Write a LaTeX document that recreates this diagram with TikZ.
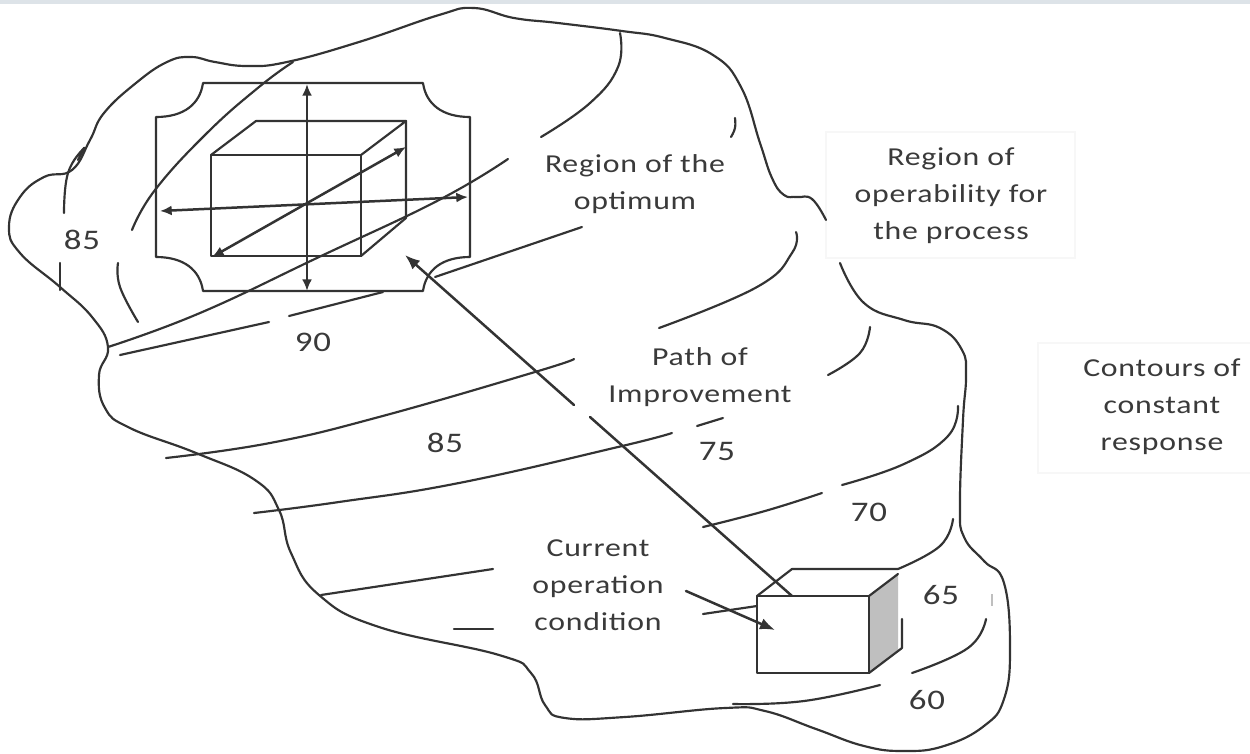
\documentclass[tikz,border=0pt]{standalone}
\usepackage{fontspec}
\setmainfont[LetterSpace=3,FakeStretch=1.23]{Carlito}
\usetikzlibrary{arrows.meta}
\definecolor{ink}{HTML}{333333}
\definecolor{txt}{HTML}{3A3A3A}
\definecolor{band}{HTML}{DDE3E8}
\tikzset{
  ln/.style={draw=ink,line width=1.3pt,line cap=round,line join=round},
  cv/.style={ln,smooth,tension=0.75},
  lbl/.style={text=txt,font=\fontsize{15.5}{22.2}\selectfont,align=center,inner sep=0pt},
  num/.style={text=txt,font=\fontsize{17}{20}\selectfont,inner sep=0pt},
  arr/.style={ln,line width=1.5pt,-{Latex[length=9pt,width=7pt]}},
  dbl/.style={ln,line width=1.5pt,{Latex[length=7pt,width=6pt]}-{Latex[length=7pt,width=6pt]}},
  pane/.style={draw=black!3,fill=white,line width=.8pt}
}
\begin{document}
\begin{tikzpicture}[x=0.6pt,y=-0.6pt]
\useasboundingbox (0,0) rectangle (1250,753);
\fill[white] (0,0) rectangle (1250,753);
\fill[band] (0,0) rectangle (1250,4);
% panes
\draw[pane] (826,132) rectangle (1075,258);
\draw[pane] (1038,343) rectangle (1251,473);
% outline
\draw[cv] plot coordinates {(826,220)(812,199)(797,197)(784,195)(772,178)(760,143)(741,87)(713,55)(665,38)(622,31)(558,23)(514,18)(474,8)(439,15)(359,42)(287,62)(247,66)(215,62)(191,57)(167,62)(136,83)(104,113)(90,140)(72,170)(44,177)(20,197)(9,227)(20,253)(60,287)(92,317)(108,347)(99,375)(105,408)(130,428)(196,453)(255,480)(279,510)(291,553)(319,595)(379,627)(499,655)(531,673)(545,705)(565,718)(625,717)(725,708)(765,711)(816,729)(864,746)(904,751)(944,746)(984,726)(1004,699)(1010,649)(1004,583)(984,561)(964,537)(960,505)(963,420)(966,376)(962,350)(940,328)(904,320)(864,303)(840,263)};
% contours
\draw[cv] plot coordinates {(64,213)(68,173)(84,148)(78,160)};
\draw[ln] (60,263) -- (60,290);
\draw[cv] plot coordinates {(293,62)(259,87)(207,133)(155,190)(132,230)};
\draw[cv] plot coordinates {(118,263)(120,287)(138,322)};
\draw[cv] plot coordinates {(508,159)(439,200)(319,257)(200,313)(108,347)};
\draw[ln] (582,227) -- (435,277);
\draw[ln] (383,292) -- (289,316);
\draw[ln] (269,322) -- (120,355);
\draw[cv] plot coordinates {(620,33)(618,67)(590,103)(541,137)};
\draw[cv] plot coordinates {(735,118)(735,128)(731,137)};
\draw[cv] plot coordinates {(796,232)(792,253)(757,287)(659,328)};
\draw[cv] plot coordinates {(574,359)(535,372)(379,417)(270,443)(166,458)};
\draw[cv] plot coordinates {(870,327)(860,353)(828,375)};
\draw[ln] (723,418) -- (697,426);
\draw[cv] plot coordinates {(672,433)(618,447)(459,483)(339,502)(254,513)};
\draw[cv] plot coordinates {(958,406)(948,436)(904,464)(842,485)};
\draw[cv] plot coordinates {(822,493)(765,511)(703,527)};
\draw[cv] plot coordinates {(953,519)(940,546)(898,569)};
\draw[ln] (321,595) -- (493,569);
\draw[ln] (454,629) -- (493,629);
\draw[ln] (757,606) -- (703,614);
\draw[cv] plot coordinates {(986,619)(968,648)(912,673)};
\draw[cv] plot coordinates {(880,685)(804,701)(733,704)};
\draw[black!25,line width=.8pt] (992,594) -- (992,606);
% big frame
\draw[ln] (203,83) -- (423,83) .. controls (426,104) and (442,117) .. (470,117) -- (470,257)
  .. controls (442,257) and (426,270) .. (423,291) -- (203,291)
  .. controls (200,270) and (184,257) .. (156,257) -- (156,117)
  .. controls (184,117) and (200,104) .. (203,83) -- cycle;
% large cube
\draw[ln] (211,155) rectangle (361,256);
\draw[ln] (211,155) -- (256,121) -- (406,121) -- (361,155);
\draw[ln] (406,121) -- (406,218) -- (361,256);
% axes
\coordinate (vt) at (307,84); \coordinate (vb) at (307,291);
\coordinate (hl) at (160,211); \coordinate (hr) at (468,197);
\coordinate (dl) at (212,257); \coordinate (dr) at (406,147);
\draw[dbl] (vt) -- (vb);
\draw[dbl] (hl) -- (hr);
\draw[dbl] (dl) -- (dr);
% small cube
\fill[black!25] (869,596) -- (898,574) -- (898,650) -- (869,673) -- cycle;
\draw[ln] (757,596) rectangle (869,673);
\draw[ln] (757,596) -- (792,569) -- (898,569);
\draw[ln] (869,596) -- (898,574);
\draw[ln] (869,673) -- (902,648) -- (902,619);
% path of improvement
\coordinate (ps) at (792,596); \coordinate (pm) at (590,417); \coordinate (pn) at (574,405); \coordinate (pe) at (405,255);
\draw[ln,line width=1.5pt] (ps) -- (pm);
\draw[arr] (pn) -- (pe);
\coordinate (cs) at (686,591); \coordinate (ce) at (775,630);
\draw[arr] (cs) -- (ce);
% labels
\node[lbl] (ropt) at (635,184) {Region of the\\optimum};
\node[lbl] (roper) at (951,196) {Region of\\operability for\\the process};
\node[lbl] (path) at (700,377) {Path of\\Improvement};
\node[lbl] (cont) at (1162,407) {Contours of\\constant\\response};
\node[lbl] (cur) at (598,585) {Current\\operation\\condition};
\node[num] (n85a) at (82,240) {85};
\node[num] (n90) at (313,342) {90};
\node[num] (n85b) at (445,443) {85};
\node[num] (n75) at (717,451) {75};
\node[num] (n70) at (869,512) {70};
\node[num] (n65) at (941,595) {65};
\node[num] (n60) at (927,700) {60};
\end{tikzpicture}
\end{document}
